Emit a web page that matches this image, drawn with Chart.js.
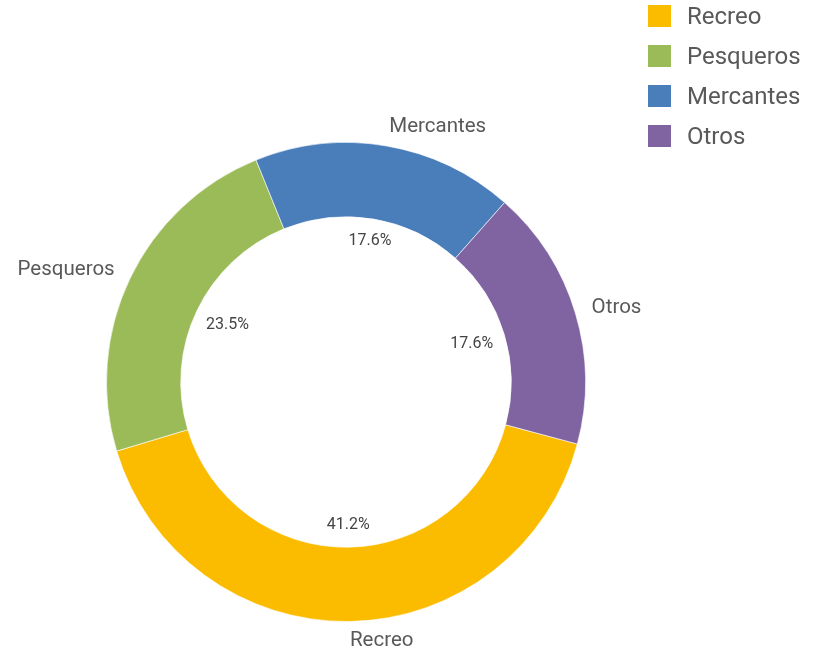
<!DOCTYPE html>
<html>
<head>
<meta charset="utf-8">
<script src="https://cdn.jsdelivr.net/npm/chart.js@4/dist/chart.umd.min.js"></script>
<style>
  body { margin: 0; background: #fff; }
  #wrap { width: 813px; height: 648px; }
</style>
</head>
<body>
<div id="wrap"><canvas id="js--chart--1" width="813" height="648"></canvas></div>
<script>
const labels = ["Recreo", "Pesqueros", "Mercantes", "Otros"];
const values = [7, 4, 3, 3];
const colors = ["#FBBC00", "#9BBB59", "#4A7EBB", "#8064A2"];

const fontFamily = "Roboto, 'Noto Sans', sans-serif";

// labels outside the ring (names) and inside the hole (percent)
const sliceLabels = {
    id: "sliceLabels",
    afterDatasetsDraw(chart) {
        const ctx = chart.ctx;
        const meta = chart.getDatasetMeta(0);
        const total = values.reduce((a, b) => a + b, 0);
        ctx.save();
        meta.data.forEach(function (arc, i) {
            const mid = (arc.startAngle + arc.endAngle) / 2;
            const dx = Math.cos(mid), dy = Math.sin(mid);

            // name: anchored just outside the ring, text runs away from the centre
            ctx.font = "20.5px " + fontFamily;
            ctx.fillStyle = "#595959";
            const r = arc.outerRadius + 10;
            const ax = arc.x + dx * r + dx * 7;
            const ay = arc.y + dy * r + dy * 9;
            ctx.textAlign = dx >= 0 ? "left" : "right";
            ctx.textBaseline = "middle";
            ctx.fillText(labels[i], ax, ay);

            // percent inside the hole
            const pct = (values[i] / total * 100).toFixed(1) + "%";
            ctx.font = "16px " + fontFamily;
            ctx.fillStyle = "#444";
            ctx.textAlign = "center";
            const w = ctx.measureText(pct).width, h = 16;
            const ext = Math.abs(dx) * w / 2 + Math.abs(dy) * h / 2;
            const rp = arc.innerRadius - 11 - ext - (dy > 0 ? 3 * dy : 0);
            ctx.fillText(pct, arc.x + dx * rp, arc.y + dy * rp);
        });
        ctx.restore();
    }
};

// legend in the top right corner
const cornerLegend = {
    id: "cornerLegend",
    afterDraw(chart) {
        const ctx = chart.ctx;
        ctx.save();
        ctx.font = "24px " + fontFamily;
        ctx.textBaseline = "middle";
        ctx.textAlign = "left";
        labels.forEach(function (lab, i) {
            const y = 5 + i * 40;
            ctx.fillStyle = colors[i];
            ctx.fillRect(648, y, 23, 22);
            ctx.fillStyle = "#595959";
            ctx.fillText(lab, 687, y + 13);
        });
        ctx.restore();
    }
};

const data = {
    labels: labels,
    datasets: [
        {
            data: values,
            backgroundColor: colors,
            borderColor: "rgba(255,255,255,0.6)",
            borderWidth: 1
        }
    ]
};

const config = {
    type: "doughnut",
    data: data,
    options: {
        responsive: false,
        animation: false,
        rotation: 105,
        cutout: "69%",
        layout: { padding: { left: 106, right: 227, top: 142, bottom: 26 } },
        plugins: {
            legend: { display: false },
            tooltip: { enabled: false }
        }
    },
    plugins: [sliceLabels, cornerLegend]
};

new Chart(document.getElementById("js--chart--1"), config);
</script>
</body>
</html>
